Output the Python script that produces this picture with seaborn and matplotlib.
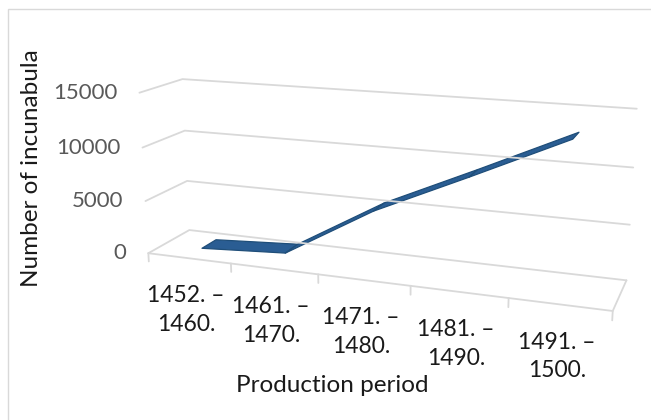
import matplotlib
matplotlib.use("Agg")
import matplotlib.pyplot as plt
import seaborn as sns
import numpy as np
from matplotlib.patches import Rectangle
from mpl_toolkits.mplot3d import proj3d
from mpl_toolkits.mplot3d.art3d import Poly3DCollection

# Incunabula printed per production period
periods = ["1452. –\n1460.", "1461. –\n1470.", "1471. –\n1480.",
           "1481. –\n1490.", "1491. –\n1500."]
counts = [200, 700, 5500, 9300, 13200]
value_ticks = [0, 5000, 10000, 15000]
value_labels = ["0", "5000", "10000", "15000"]

sns.set_theme(style="white")
plt.rcParams["font.family"] = ["Lato", "DejaVu Sans"]

GRID = "#d9d9d9"
LINE_BLUE = "#2a5d93"
EDGE_BLUE = "#1f4e79"
PT = 72 / 100  # points per pixel at 100 dpi

fig = plt.figure(figsize=(6.51, 4.20), dpi=100)

# square 3D panel, wider than the figure so the perspective can be large
ax = fig.add_axes([0.0686, -0.2364, 1.0, 651 / 420], projection="3d")
ax.set_axis_off()
ax.patch.set_visible(False)
ax.set_proj_type("persp", focal_length=0.3206)
ax.view_init(elev=15, azim=-70)
ax.set_box_aspect((1.0, 0.18, 0.353), zoom=0.78)

n = len(periods)
xs = np.arange(1, n + 1)
x0, x1 = 0.5, n + 0.5
y0, y1 = 0.0, 1.0
zmax = value_ticks[-1]
ax.set_xlim(x0, x1)
ax.set_ylim(y0, y1)
ax.set_zlim(0, zmax)
ax.set_xticks([])
ax.set_yticks([])
ax.set_zticks([])

# horizontal gridlines on the side wall and back wall
for z in value_ticks:
    ax.plot([x0, x0, x1], [y0, y1, y1], [z, z, z], color=GRID, lw=1.3,
            clip_on=False)

# floor outline (front and right edges)
ax.plot([x0, x1, x1], [y0, y0, y1], [0, 0, 0], color=GRID, lw=1.3,
        clip_on=False)

# tick marks between categories along the front edge
for xb in np.arange(x0, x1 + 0.01, 1.0):
    ax.plot([xb, xb], [y0, y0], [0, -800], color=GRID, lw=1.3, clip_on=False)

# 3D line drawn as a ribbon
ya, yb = 0.32, 0.68
verts = []
for i in range(n - 1):
    verts.append([(xs[i], ya, counts[i]), (xs[i + 1], ya, counts[i + 1]),
                  (xs[i + 1], yb, counts[i + 1]), (xs[i], yb, counts[i])])
ribbon = Poly3DCollection(verts, facecolor=LINE_BLUE, edgecolor=EDGE_BLUE,
                          linewidths=0.9)
ribbon.set_clip_on(False)
ax.add_collection3d(ribbon)

# labels are anchored at projected 3D points and offset in screen space
M = ax.get_proj()

zx, zy, _ = proj3d.proj_transform(np.full(len(value_ticks), x0),
                                  np.full(len(value_ticks), y0),
                                  np.array(value_ticks, dtype=float), M)
for px, py, lab in zip(zx, zy, value_labels):
    ax.annotate(lab, xy=(px, py), xycoords="data",
                xytext=(-22 * PT, 0), textcoords="offset points",
                ha="right", va="center", fontsize=16, color="#595959",
                annotation_clip=False)

cx, cy, _ = proj3d.proj_transform(xs.astype(float), np.full(n, y0),
                                  np.zeros(n), M)
for px, py, lab in zip(cx, cy, periods):
    ax.annotate(lab, xy=(px, py), xycoords="data",
                xytext=(-3 * PT, -52 * PT), textcoords="offset points",
                ha="center", va="center", fontsize=16.5, color="#1a1a1a",
                linespacing=1.45, annotation_clip=False)

# axis titles
fig.text(332 / 651, 1 - 385 / 420, "Production period", ha="center",
         va="center", fontsize=17.5, color="#1a1a1a")
fig.text(32 / 651, 1 - 168 / 420, "Number of incunabula", ha="center",
         va="center", rotation=90, fontsize=17.5, color="#1a1a1a")

# chart frame
fig.patches.append(Rectangle((8 / 651, -0.1), 1.2, 1 - 9 / 420 + 0.1,
                             transform=fig.transFigure, fill=False,
                             edgecolor=GRID, lw=1.0, zorder=10))

fig.savefig("out.png", dpi=100)
